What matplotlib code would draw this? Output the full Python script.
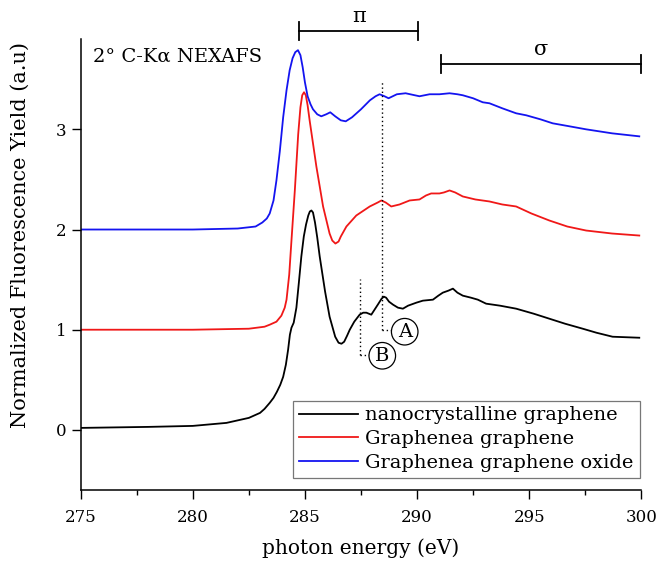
import matplotlib
matplotlib.use("Agg")
import matplotlib.pyplot as plt
from matplotlib.ticker import MultipleLocator

plt.rcParams["font.family"] = ["DejaVu Serif"]

# nanocrystalline graphene (black)
e_nc = [275.0, 278.0, 280.0, 281.5, 282.5, 283.0, 283.2, 283.43, 283.6, 283.75,
        283.9, 284.03, 284.15, 284.25, 284.33, 284.40, 284.5, 284.62, 284.73, 284.84,
        284.95, 285.05, 285.15, 285.22, 285.29, 285.36, 285.45, 285.55, 285.66, 285.9,
        286.10, 286.35, 286.5, 286.63, 286.75, 286.88, 287.0, 287.2, 287.44, 287.6,
        287.74, 287.96, 288.25, 288.42, 288.52, 288.62, 288.75, 288.93, 289.15, 289.37,
        289.6, 289.97, 290.26, 290.71, 290.95, 291.15, 291.4, 291.60, 291.8, 292.04,
        292.4, 292.71, 293.08, 293.7, 294.42, 295.2, 295.90, 296.6, 297.39, 298.0,
        298.72, 299.91]
y_nc = [0.02, 0.03, 0.04, 0.07, 0.12, 0.17, 0.21, 0.27, 0.32, 0.38,
        0.45, 0.53, 0.65, 0.80, 0.95, 1.02, 1.07, 1.22, 1.47, 1.73,
        1.93, 2.05, 2.14, 2.18, 2.19, 2.17, 2.07, 1.92, 1.73, 1.38,
        1.13, 0.93, 0.87, 0.86, 0.88, 0.94, 1.00, 1.08, 1.15, 1.17,
        1.17, 1.15, 1.25, 1.31, 1.33, 1.32, 1.28, 1.25, 1.22, 1.21,
        1.24, 1.27, 1.29, 1.30, 1.34, 1.37, 1.39, 1.41, 1.37, 1.34,
        1.32, 1.30, 1.26, 1.24, 1.21, 1.16, 1.11, 1.06, 1.01, 0.97,
        0.93, 0.92]

# Graphenea graphene (red), offset +1
e_gr = [275.0, 280.0, 282.5, 283.2, 283.43, 283.73, 283.95, 284.1, 284.18, 284.3,
        284.40, 284.55, 284.7, 284.8, 284.88, 284.96, 285.04, 285.12, 285.21, 285.36,
        285.51, 285.81, 286.10, 286.22, 286.36, 286.5, 286.6, 286.85, 287.29, 287.89,
        288.25, 288.41, 288.6, 288.85, 289.22, 289.67, 290.11, 290.4, 290.63, 291.0,
        291.2, 291.45, 291.7, 292.04, 292.6, 293.23, 293.8, 294.42, 295.1, 295.90,
        296.7, 297.54, 298.7, 299.91]
y_gr = [1.00, 1.00, 1.01, 1.03, 1.05, 1.08, 1.14, 1.22, 1.30, 1.55,
        1.89, 2.39, 2.95, 3.22, 3.34, 3.37, 3.34, 3.24, 3.09, 2.86,
        2.63, 2.23, 1.96, 1.89, 1.86, 1.88, 1.93, 2.03, 2.14, 2.23,
        2.27, 2.29, 2.27, 2.23, 2.25, 2.29, 2.30, 2.34, 2.36, 2.36,
        2.37, 2.39, 2.37, 2.33, 2.30, 2.28, 2.25, 2.23, 2.16, 2.09,
        2.03, 1.99, 1.96, 1.94]

# Graphenea graphene oxide (blue), offset +2
e_go = [275.0, 280.0, 282.0, 282.8, 283.1, 283.3, 283.43, 283.6, 283.73, 283.88,
        284.03, 284.18, 284.32, 284.45, 284.57, 284.69, 284.8, 284.9, 285.0, 285.12,
        285.25, 285.36, 285.55, 285.73, 285.95, 286.13, 286.35, 286.6, 286.82, 287.1,
        287.5, 287.9, 288.15, 288.33, 288.55, 288.73, 289.1, 289.49, 289.9, 290.11,
        290.56, 291.0, 291.45, 291.8, 292.04, 292.5, 292.93, 293.23, 293.8, 294.42,
        294.87, 295.5, 296.05, 296.8, 297.54, 298.7, 299.91]
y_go = [2.00, 2.00, 2.01, 2.03, 2.07, 2.11, 2.16, 2.29, 2.49, 2.78,
        3.12, 3.39, 3.59, 3.71, 3.77, 3.79, 3.74, 3.62, 3.47, 3.33,
        3.25, 3.20, 3.15, 3.13, 3.15, 3.17, 3.13, 3.09, 3.08, 3.12,
        3.20, 3.29, 3.33, 3.35, 3.33, 3.31, 3.35, 3.36, 3.34, 3.33,
        3.35, 3.35, 3.36, 3.35, 3.34, 3.31, 3.27, 3.26, 3.21, 3.16,
        3.14, 3.10, 3.06, 3.03, 3.00, 2.96, 2.93]

labels = ["nanocrystalline graphene", "Graphenea graphene", "Graphenea graphene oxide"]
colors = ["black", "#f01818", "#1414f0"]

# feature markers: (energy, top, bottom, label energy, label y)
feat_a = (288.45, 3.48, 1.00, 289.45, 0.98)
feat_b = (287.44, 1.51, 0.75, 288.45, 0.74)
pi_range = (284.75, 290.05)
sigma_range = (291.05, 300.0)

fig = plt.figure(figsize=(6.58, 5.65), dpi=100)
ax = fig.add_axes([0.1226, 0.1327, 0.852, 0.798])

for e, y, c, lab in zip([e_nc, e_gr, e_go], [y_nc, y_gr, y_go], colors, labels):
    ax.plot(e, y, color=c, lw=1.3, label=lab)

for xv, top, bot, xl, yl, txt in [(*feat_a, "A"), (*feat_b, "B")]:
    ax.plot([xv, xv], [bot, top], ls=(0, (1, 2)), color="black", lw=1.0)
    ax.plot([xv, xl - 0.55], [bot, bot], ls=(0, (1, 2)), color="black", lw=1.0)
    ax.text(xl, yl, txt, ha="center", va="center", fontsize=14,
            bbox=dict(boxstyle="circle,pad=0.22", fc="white", ec="black", lw=0.9))

# pi and sigma brackets
for (x0, x1), yb, sym in [(pi_range, 3.98, "π"), (sigma_range, 3.65, "σ")]:
    ax.plot([x0, x1], [yb, yb], color="black", lw=1.3, clip_on=False)
    for xe in (x0, x1):
        ax.plot([xe, xe], [yb - 0.09, yb + 0.09], color="black", lw=1.3, clip_on=False)
    ax.text((x0 + x1) / 2, yb + 0.05, sym, ha="center", va="bottom", fontsize=15)

ax.text(275.55, 3.73, "2° C-Kα NEXAFS", ha="left", va="center", fontsize=14)

ax.set_xlim(275, 300)
ax.set_ylim(-0.6, 3.9)
ax.xaxis.set_major_locator(MultipleLocator(5))
ax.xaxis.set_minor_locator(MultipleLocator(2.5))
ax.yaxis.set_major_locator(MultipleLocator(1))
ax.spines["top"].set_visible(False)
ax.spines["right"].set_visible(False)
for s in ("left", "bottom"):
    ax.spines[s].set_linewidth(1.1)
ax.tick_params(which="major", direction="out", length=6.5, width=1.0, labelsize=12)
ax.tick_params(axis="x", which="major", pad=7)
ax.tick_params(which="minor", direction="out", length=3.5, width=1.0)

ax.set_xlabel("photon energy (eV)", fontsize=14.5, labelpad=9)
ax.set_ylabel("Normalized Fluorescence Yield (a.u)", fontsize=15)
ax.yaxis.set_label_coords(-0.09, 0.565)

leg = ax.legend(loc="lower right", bbox_to_anchor=(0.997, 0.027), borderaxespad=0,
                fontsize=14, frameon=True, fancybox=False, framealpha=1,
                edgecolor="#777777", handlelength=3.0, handletextpad=0.4,
                labelspacing=0.3, borderpad=0.3)
leg.get_frame().set_linewidth(0.9)

fig.savefig("out.png", dpi=100)
